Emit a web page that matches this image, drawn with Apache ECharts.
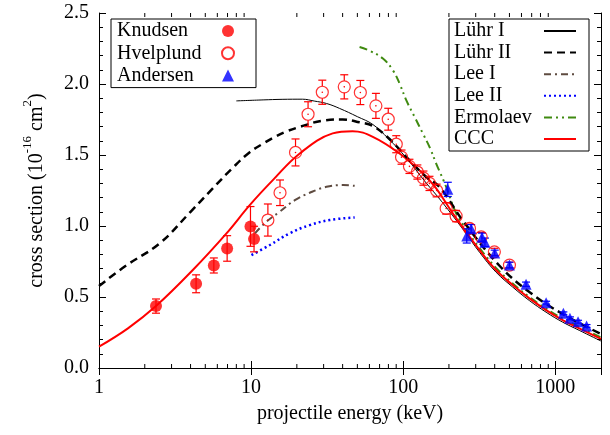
<!DOCTYPE html>
<html>
<head>
<meta charset="utf-8">
<script src="https://cdn.jsdelivr.net/npm/echarts@6/dist/echarts.min.js"></script>
<style>
html, body { margin: 0; padding: 0; background: #fff; }
#main { width: 610px; height: 435px; }
</style>
</head>
<body>
<div id="main"></div>
<script>
// measured points: [energy keV, cross section, error]
var knudsen = [[2.37, 0.436, 0.05], [4.35, 0.593, 0.063], [5.69, 0.722, 0.053], [6.96, 0.842, 0.09], [9.91, 0.997, 0.14], [10.46, 0.908, 0.09]];
var hvelplund = [[12.9, 1.042, 0.113], [15.5, 1.234, 0.09], [19.6, 1.518, 0.095], [23.7, 1.787, 0.088], [29.4, 1.942, 0.085], [41.0, 1.98, 0.085], [52.3, 1.94, 0.085], [66.2, 1.846, 0.088], [79.8, 1.752, 0.077], [90.1, 1.576, 0.06], [97.6, 1.485, 0.05], [110, 1.42, 0.05], [124, 1.38, 0.05], [136, 1.337, 0.05], [149, 1.3, 0.05], [166, 1.25, 0.045], [191.8, 1.124, 0.04], [223, 1.07, 0.04], [273, 0.983, 0.03], [326, 0.924, 0.03], [398, 0.818, 0.025], [500, 0.725, 0.02]];
var andersen = [[196.6, 1.258, 0.05], [262, 0.93, 0.05], [280, 0.98, 0.03], [330, 0.92, 0.03], [345, 0.885, 0.03], [400, 0.81, 0.02], [500, 0.725, 0.02], [643, 0.59, 0.015], [871, 0.46, 0.01], [1131, 0.385, 0.01], [1250, 0.35, 0.01], [1413, 0.326, 0.01], [1607, 0.296, 0.01]];

// theory curves: [energy keV, cross section]
var luhr1 = [[8, 1.881], [12, 1.888], [16, 1.892], [21.8, 1.893], [26, 1.88], [31.3, 1.863], [38.2, 1.828], [50, 1.77], [63.2, 1.715], [80, 1.615], [104.8, 1.48], [140, 1.31], [180, 1.17], [250, 0.97], [318, 0.815], [408, 0.675], [525, 0.57], [676, 0.475], [871, 0.393], [1119, 0.323], [1439, 0.265], [2000, 0.19]];
var luhr2 = [[1, 0.577], [1.5, 0.72], [2.51, 0.878], [4, 1.1], [5.6, 1.265], [7.5, 1.405], [9.8, 1.52], [12, 1.58], [14, 1.622], [17, 1.665], [20.9, 1.698], [30, 1.743], [40, 1.75], [51.7, 1.73], [63, 1.705], [80, 1.62], [104.8, 1.487], [140, 1.35], [173, 1.276], [250, 1.03], [430, 0.72], [676, 0.535], [1119, 0.38], [2000, 0.24]];
var lee1 = [[10.6, 0.948], [12.6, 1.03], [15.4, 1.1], [19.4, 1.182], [24.3, 1.234], [31.3, 1.276], [40.2, 1.288], [48, 1.283]];
var lee2 = [[10.06, 0.795], [13.3, 0.866], [17.9, 0.948], [24.3, 1.006], [32.9, 1.042], [48, 1.06]];
var ermolaev = [[51.7, 2.261], [60, 2.235], [73.6, 2.179], [85.6, 2.097], [95, 2.0], [104.8, 1.886], [120, 1.76], [134.7, 1.652], [150, 1.55], [164.9, 1.44], [191.8, 1.276], [223, 1.09], [260, 0.975], [318, 0.845], [408, 0.705], [525, 0.595], [676, 0.5], [871, 0.418], [1119, 0.348], [1439, 0.29], [2000, 0.215]];
var ccc = [[1, 0.15], [1.55, 0.279], [2.37, 0.436], [4.14, 0.69], [6.89, 0.948], [9.8, 1.147], [13.9, 1.323], [20.9, 1.511], [34.4, 1.652], [46.5, 1.668], [63.2, 1.628], [94.7, 1.511], [134.7, 1.37], [164.9, 1.265], [212, 1.089], [318, 0.83], [408, 0.69], [525, 0.584], [676, 0.49], [871, 0.408], [1119, 0.338], [1439, 0.279], [2000, 0.205]];

var xMinorTicks = [2, 3, 4, 5, 6, 7, 8, 9, 20, 30, 40, 50, 60, 70, 80, 90, 200, 300, 400, 500, 600, 700, 800, 900];

var font = 'Liberation Serif';
var yMin = 0, yMax = 2.5;

var chart = echarts.init(document.getElementById('main'));

function errBar(color, hole) {
	return function (params, api) {
		var x = api.value(0), y = api.value(1), e = api.value(2);
		var c = api.coord([x, y]);
		var t = api.coord([x, y + e]);
		var b = api.coord([x, y - e]);
		var st = { stroke: color, lineWidth: 1.2 };
		var kids = [
			{ type: 'line', shape: { x1: c[0] - 4, y1: t[1], x2: c[0] + 4, y2: t[1] }, style: st },
			{ type: 'line', shape: { x1: c[0] - 4, y1: b[1], x2: c[0] + 4, y2: b[1] }, style: st }
		];
		if (hole) {
			if (t[1] < c[1] - 6) kids.push({ type: 'line', shape: { x1: c[0], y1: t[1], x2: c[0], y2: c[1] - 6 }, style: st });
			if (b[1] > c[1] + 6) kids.push({ type: 'line', shape: { x1: c[0], y1: c[1] + 6, x2: c[0], y2: b[1] }, style: st });
			kids.push({ type: 'circle', shape: { cx: c[0], cy: c[1], r: 0.8 }, style: { fill: color } });
		} else {
			kids.push({ type: 'line', shape: { x1: c[0], y1: t[1], x2: c[0], y2: b[1] }, style: st });
		}
		return { type: 'group', children: kids };
	};
}

function minorTick(params, api) {
	var v = api.value(0);
	var b = api.coord([v, yMin]);
	var t = api.coord([v, yMax]);
	var st = { stroke: '#000', lineWidth: 1 };
	return {
		type: 'group',
		children: [
			{ type: 'line', shape: { x1: b[0], y1: b[1], x2: b[0], y2: b[1] - 4 }, style: st },
			{ type: 'line', shape: { x1: t[0], y1: t[1], x2: t[0], y2: t[1] + 4 }, style: st }
		]
	};
}

function curve(name, data, color, width, dash) {
	return {
		name: name,
		type: 'line',
		data: data,
		symbol: 'none',
		smooth: 0.4,
		lineStyle: { color: color, width: width, type: dash },
		itemStyle: { color: color },
		z: 3
	};
}

var axisLine = { show: true, lineStyle: { color: '#000', width: 1 } };
var labelStyle = { fontFamily: font, fontSize: 20, color: '#000' };

var option = {
	animation: false,
	grid: { left: 99, right: 9, top: 13, bottom: 67, containLabel: false },
	legend: [{
		orient: 'vertical',
		left: 111,
		top: 19,
		data: ['Knudsen', 'Hvelplund', 'Andersen'],
		align: 'right',
		itemWidth: 12,
		itemHeight: 12,
		itemGap: 2.3,
		padding: [2, 21, 2, 6],
		borderColor: '#000',
		borderWidth: 1,
		selectedMode: false,
		formatter: '{n|{name}}',
		textStyle: {
			rich: { n: { fontFamily: font, fontSize: 20, color: '#000', width: 100, align: 'left', lineHeight: 17 } }
		}
	}, {
		orient: 'vertical',
		left: 449,
		top: 19,
		data: ['Lühr I', 'Lühr II', 'Lee I', 'Lee II', 'Ermolaev', 'CCC'],
		align: 'right',
		itemWidth: 32,
		itemHeight: 14,
		itemGap: 1.6,
		padding: [2, 12, 2, 5],
		borderColor: '#000',
		borderWidth: 1,
		selectedMode: false,
		itemStyle: { color: 'rgba(0,0,0,0)', borderWidth: 0, opacity: 0 },
		formatter: '{n|{name}}',
		textStyle: {
			rich: { n: { fontFamily: font, fontSize: 20, color: '#000', width: 85, align: 'left', lineHeight: 17 } }
		}
	}],
	xAxis: [{
		type: 'log',
		logBase: 10,
		min: 1,
		max: 2000,
		position: 'bottom',
		axisLine: axisLine,
		axisTick: { inside: true, length: 7, lineStyle: { color: '#000' } },
		splitLine: { show: false },
		axisLabel: {
			fontFamily: font, fontSize: 20, color: '#000', margin: 10, showMaxLabel: false,
			formatter: function (v) {
				var p = Math.log10(v);
				return Math.abs(p - Math.round(p)) < 1e-6 ? String(Math.round(v)) : '';
			}
		},
		name: 'projectile energy (keV)',
		nameLocation: 'middle',
		nameGap: 36,
		nameTextStyle: labelStyle
	}, {
		type: 'log',
		logBase: 10,
		min: 1,
		max: 2000,
		position: 'top',
		axisLine: axisLine,
		axisTick: { inside: true, length: 7, lineStyle: { color: '#000' } },
		splitLine: { show: false },
		axisLabel: { show: false }
	}],
	yAxis: [{
		type: 'value',
		min: yMin,
		max: yMax,
		interval: 0.5,
		position: 'left',
		axisLine: axisLine,
		axisTick: { inside: true, length: 7, lineStyle: { color: '#000' } },
		minorTick: { show: true, splitNumber: 5, length: 4, lineStyle: { color: '#000' } },
		splitLine: { show: false },
		axisLabel: {
			fontFamily: font, fontSize: 20, color: '#000', margin: 10,
			formatter: function (v) { return v.toFixed(1); }
		},
		name: '{a|cross section (10}{s|-16}{a| cm}{s|2}{a|)}',
		nameLocation: 'middle',
		nameGap: 52,
		nameTextStyle: {
			rich: {
				a: { fontFamily: font, fontSize: 20, color: '#000', lineHeight: 26, verticalAlign: 'bottom' },
				s: { fontFamily: font, fontSize: 13, color: '#000', lineHeight: 13, verticalAlign: 'top' }
			}
		}
	}, {
		type: 'value',
		min: yMin,
		max: yMax,
		interval: 0.5,
		position: 'right',
		axisLine: axisLine,
		axisTick: { inside: true, length: 7, lineStyle: { color: '#000' } },
		minorTick: { show: true, splitNumber: 5, length: 4, lineStyle: { color: '#000' } },
		splitLine: { show: false },
		axisLabel: { show: false }
	}],
	series: [
		{
			name: 'xticks',
			type: 'custom',
			renderItem: minorTick,
			data: xMinorTicks.map(function (v) { return [v, 0]; }),
			clip: false,
			silent: true,
			z: 1
		},
		curve('Lühr I', luhr1, '#000', 1, 'solid'),
		curve('Lee I', lee1, '#5e4b40', 2, [7, 4, 2, 4]),
		curve('Lee II', lee2, '#0000ff', 2.5, [2, 3]),
		curve('Ermolaev', ermolaev, '#3f8a10', 2, [8, 4, 2, 4, 2, 4]),
		curve('CCC', ccc, '#ff0000', 2, 'solid'),
		curve('Lühr II', luhr2, '#000', 2.5, [8, 5]),
		{
			name: 'Knudsen err',
			type: 'custom',
			renderItem: errBar('#ff0000', false),
			data: knudsen,
			z: 4
		},
		{
			name: 'Hvelplund err',
			type: 'custom',
			renderItem: errBar('#ff0000', true),
			data: hvelplund,
			z: 4
		},
		{
			name: 'Andersen err',
			type: 'custom',
			renderItem: errBar('#0000ff', false),
			data: andersen,
			z: 4
		},
		{
			name: 'Knudsen',
			type: 'scatter',
			data: knudsen,
			symbol: 'circle',
			symbolSize: 12,
			itemStyle: { color: '#ff0000' },
			z: 5
		},
		{
			name: 'Hvelplund',
			type: 'scatter',
			data: hvelplund,
			symbol: 'circle',
			symbolSize: 12,
			itemStyle: { color: 'rgba(255,255,255,0)', borderColor: '#ff0000', borderWidth: 1.2 },
			z: 5
		},
		{
			name: 'Andersen',
			type: 'scatter',
			data: andersen,
			symbol: 'triangle',
			symbolSize: 11,
			itemStyle: { color: '#0000ff' },
			z: 5
		}
	]
};

chart.setOption(option);

window.addEventListener('resize', function () {
	chart.resize();
});
</script>
</body>
</html>
